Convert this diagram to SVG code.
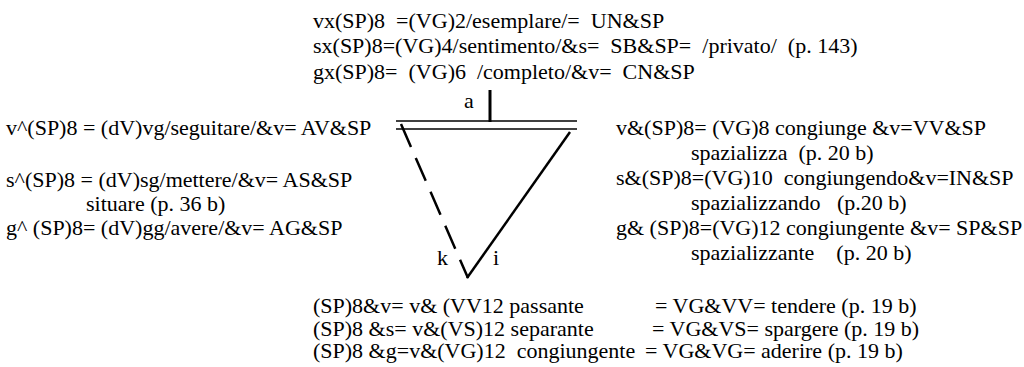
<svg xmlns="http://www.w3.org/2000/svg" width="1024" height="367" viewBox="0 0 1024 367">
<style>
text{font-family:"Liberation Serif","Times New Roman",serif;font-size:22px;fill:#000;white-space:pre}
.ln{stroke:#000;fill:none}
</style>
<rect width="1024" height="367" fill="#fff"/>
<g id="top">
<text x="313" y="28">vx(SP)8  =(VG)2/esemplare/=  UN&amp;SP</text>
<text x="313" y="53">sx(SP)8=(VG)4/sentimento/&amp;s=  SB&amp;SP=  /privato/  (p. 143)</text>
<text x="313" y="79">gx(SP)8=  (VG)6  /completo/&amp;v=  CN&amp;SP</text>
</g>
<g id="left">
<text x="6" y="135">v^(SP)8 = (dV)vg/seguitare/&amp;v= AV&amp;SP</text>
<text x="6" y="187">s^(SP)8 = (dV)sg/mettere/&amp;v= AS&amp;SP</text>
<text x="86" y="211">situare (p. 36 b)</text>
<text x="6" y="235">g^ (SP)8= (dV)gg/avere/&amp;v= AG&amp;SP</text>
</g>
<g id="right">
<text x="616" y="135">v&amp;(SP)8= (VG)8 congiunge &amp;v=VV&amp;SP</text>
<text x="691" y="160">spazializza  (p. 20 b)</text>
<text x="616" y="185">s&amp;(SP)8=(VG)10  congiungendo&amp;v=IN&amp;SP</text>
<text x="691" y="210">spazializzando   (p.20 b)</text>
<text x="616" y="235">g&amp; (SP)8=(VG)12 congiungente &amp;v= SP&amp;SP</text>
<text x="691" y="260">spazializzante    (p. 20 b)</text>
</g>
<g id="bottom">
<text x="313" y="313">(SP)8&amp;v= v&amp; (VV12 passante</text>
<text x="655" y="313">= VG&amp;VV= tendere (p. 19 b)</text>
<text x="313" y="336">(SP)8 &amp;s= v&amp;(VS)12 separante</text>
<text x="652" y="336">= VG&amp;VS= spargere (p. 19 b)</text>
<text x="313" y="358">(SP)8 &amp;g=v&amp;(VG)12  congiungente</text>
<text x="645" y="358">= VG&amp;VG= aderire (p. 19 b)</text>
</g>
<g id="triangle">
<text x="464" y="108">a</text>
<text x="437" y="265">k</text>
<text x="493" y="265">i</text>
</g>
<g id="connectors">
<line class="ln" x1="396" y1="121" x2="577" y2="121" stroke-width="1.5"/>
<line class="ln" x1="396" y1="129" x2="577" y2="129" stroke-width="1.5"/>
<line class="ln" x1="490" y1="90" x2="490" y2="122" stroke-width="3"/>
<line class="ln" x1="401" y1="124" x2="468" y2="278" stroke-width="2.5" stroke-dasharray="25 12"/>
<line class="ln" x1="570" y1="132" x2="467" y2="278" stroke-width="2.5"/>
</g>
</svg>
